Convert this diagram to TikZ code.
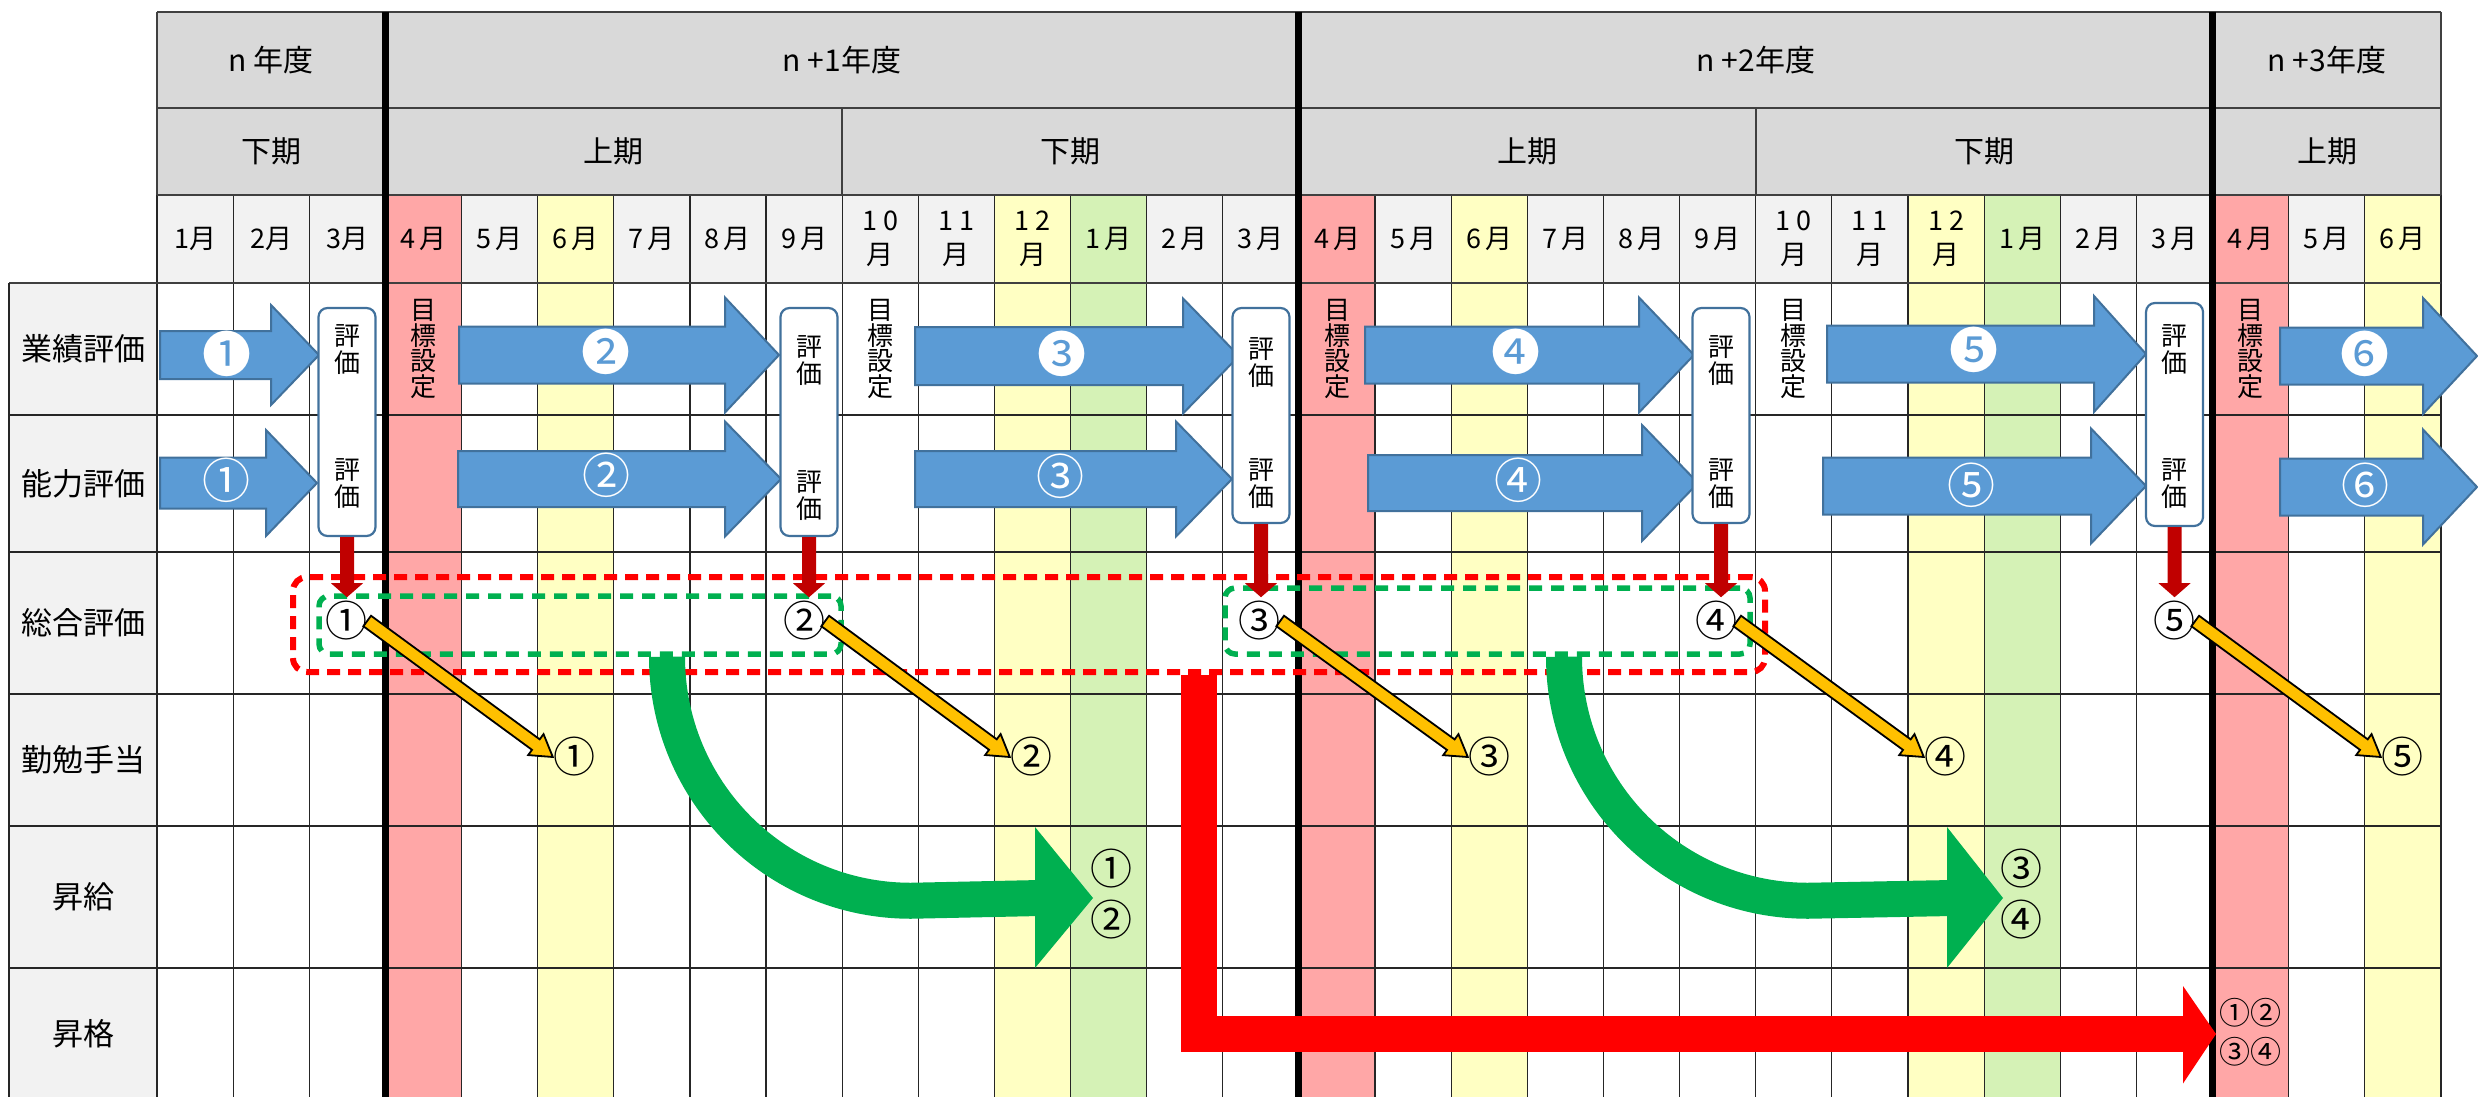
\documentclass[tikz,border=0pt]{standalone}
\usepackage{fontspec}
\setmainfont{Noto Sans CJK JP}
\usetikzlibrary{arrows.meta,calc}
\definecolor{hdr}{HTML}{D9D9D9}
\definecolor{hdrl}{HTML}{F2F2F2}
\definecolor{pinkc}{HTML}{FFA7A7}
\definecolor{yelc}{HTML}{FFFFC3}
\definecolor{grnc}{HTML}{D5F2B6}
\definecolor{bluef}{HTML}{5B9BD5}
\definecolor{blued}{HTML}{41719C}
\definecolor{dred}{HTML}{C00000}
\definecolor{gdash}{HTML}{00B050}
\definecolor{orng}{HTML}{FFC000}
\tikzset{
  gridl/.style={line width=1.2pt, draw=black!85},
  hdrline/.style={line width=1.5pt, draw=black!75},
  yearsep/.style={line width=7pt, draw=black},
  yeart/.style={font=\fontsize{30}{36}\selectfont, inner sep=0pt},
  monl/.style={font=\fontsize{27}{34}\selectfont, align=center, inner sep=0pt},
  rowl/.style={font=\fontsize{31}{36}\selectfont, inner sep=0pt},
  vtext/.style={font=\fontsize{26}{25.5}\selectfont, align=center, inner sep=0pt},
  hyoka/.style={draw=blued, line width=2.2pt, fill=white, rounded corners=9pt, minimum width=57pt, inner sep=0pt},
  hyokat/.style={font=\fontsize{26}{27}\selectfont, align=center, inner sep=0pt},
  blarr/.style={fill=bluef, draw=blued, line width=2pt, line join=miter},
  nega/.style={text=white, font=\fontsize{49}{49}\selectfont, inner sep=0pt},
  posi/.style={text=white, font=\fontsize{48}{48}\selectfont, inner sep=0pt},
  circ/.style={font=\fontsize{42}{51}\selectfont, align=center, inner sep=0pt},
  circs/.style={font=\fontsize{31}{39.5}\selectfont, align=center, inner sep=0pt},
  reddash/.style={draw=red, line width=6pt, dash pattern=on 13pt off 8pt, rounded corners=14pt, inner sep=0pt},
  grndash/.style={draw=gdash, line width=5.5pt, dash pattern=on 13pt off 9pt, rounded corners=10pt, inner sep=0pt},
  orarr/.style={fill=orng, draw=black, line width=1.8pt, line join=miter},
  grnarr/.style={draw=gdash, line width=36pt},
  redarr/.style={draw=red, line width=36pt, line join=miter},
}
\newcommand{\blueArrow}[6]{%
  \draw[blarr] (#1,{#4-#5}) -- (#2,{#4-#5}) -- (#2,{#4-#6}) -- (#3,#4) -- (#2,{#4+#6}) -- (#2,{#4+#5}) -- (#1,{#4+#5}) -- cycle;}
\newcommand{\redDown}[2]{%
  \path (#1.south) coordinate (dA) (#1.south |- #2.north) coordinate (dB);
  \fill[dred] ($(dA)+(-7,0)$) -- ($(dA)+(7,0)$) -- ($(dB)+(7,-18)$) -- ($(dB)+(16,-18)$) -- ($(dB)+(0,-4)$) -- ($(dB)+(-16,-18)$) -- ($(dB)+(-7,-18)$) -- cycle;}
\newcommand{\orArrow}[2]{%
  \path (#1) coordinate (oA) (#2) coordinate (oB);
  \coordinate (oC) at ($(oB)!21pt!(oA)$);
  \draw[orarr] ($(oA)!6.5pt!90:(oB)$) -- ($(oC)!6.5pt!90:(oB)$) -- ($(oC)!13pt!90:(oB)$) -- (oB) -- ($(oC)!13pt!-90:(oB)$) -- ($(oC)!6.5pt!-90:(oB)$) -- ($(oA)!6.5pt!-90:(oB)$) -- cycle;}
\begin{document}
\begin{tikzpicture}[x=1pt,y=-1pt]
\useasboundingbox (0,0) rectangle (2478,1097);
\clip (0,0) rectangle (2478,1097);
% ---------- fills
\fill[hdr] (157,12) rectangle (2441,195);
\fill[hdrl] (157,195) rectangle (2441,283);
\fill[hdrl] (9,283) rectangle (157,1100);
\foreach \i in {3,15,27} \fill[pinkc] ({157+\i*76.13},195) rectangle ({157+(\i+1)*76.13},1100);
\foreach \i in {5,11,17,23,29} \fill[yelc] ({157+\i*76.13},195) rectangle ({157+(\i+1)*76.13},1100);
\foreach \i in {12,24} \fill[grnc] ({157+\i*76.13},195) rectangle ({157+(\i+1)*76.13},1100);
% ---------- grid
\foreach \i in {0,...,30} \draw[gridl] ({157+\i*76.13},195) -- ({157+\i*76.13},1100);
\foreach \i in {0,9,21,30} \draw[hdrline] ({157+\i*76.13},108) -- ({157+\i*76.13},195);
\foreach \i in {0,30} \draw[hdrline] ({157+\i*76.13},12) -- ({157+\i*76.13},108);
\draw[hdrline] (157,12) -- (2441,12) (157,108) -- (2441,108) (157,195) -- (2441,195);
\draw[hdrline] (9,283) -- (2441,283);
\draw[gridl] (9,415) -- (2441,415) (9,552) -- (2441,552) (9,694) -- (2441,694) (9,826) -- (2441,826) (9,968) -- (2441,968);
\draw[gridl] (9,283) -- (9,1100);
\foreach \i in {3,15,27} \draw[yearsep] ({157+\i*76.13},12) -- ({157+\i*76.13},1100);
% ---------- header texts
\node[yeart] (y0) at (271,60) {n 年度};
\node[yeart] (y1) at (842,60) {n +1年度};
\node[yeart] (y2) at (1756,60) {n +2年度};
\node[yeart] (y3) at (2327,60) {n +3年度};
\node[yeart] (h0) at (271,151.5) {下期};
\node[yeart] (h1) at (613.5,151.5) {上期};
\node[yeart] (h2) at (1070,151.5) {下期};
\node[yeart] (h3) at (1527,151.5) {上期};
\node[yeart] (h4) at (1984,151.5) {下期};
\node[yeart] (h5) at (2327,151.5) {上期};
\foreach \i/\lab in {0/1月,1/2月,2/3月,3/4\hspace{4pt}月,4/5\hspace{4pt}月,5/6\hspace{4pt}月,6/7\hspace{4pt}月,7/8\hspace{4pt}月,8/9\hspace{4pt}月,9/{1\hspace{6pt}0\\月},10/{1\hspace{6pt}1\\月},11/{1\hspace{6pt}2\\月},12/1\hspace{4pt}月,13/2\hspace{4pt}月,14/3\hspace{4pt}月,15/4\hspace{4pt}月,16/5\hspace{4pt}月,17/6\hspace{4pt}月,18/7\hspace{4pt}月,19/8\hspace{4pt}月,20/9\hspace{4pt}月,21/{1\hspace{6pt}0\\月},22/{1\hspace{6pt}1\\月},23/{1\hspace{6pt}2\\月},24/1\hspace{4pt}月,25/2\hspace{4pt}月,26/3\hspace{4pt}月,27/4\hspace{4pt}月,28/5\hspace{4pt}月,29/6\hspace{4pt}月}
  \node[monl] (m\i) at ({157+(\i+0.5)*76.13},239) {\lab};
% ---------- row labels
\node[rowl] (r1) at (83,349) {業績評価};
\node[rowl] (r2) at (83,483.5) {能力評価};
\node[rowl] (r3) at (83,623) {総合評価};
\node[rowl] (r4) at (83,760) {勤勉手当};
\node[rowl] (r5) at (83,897) {昇給};
\node[rowl] (r6) at (83,1034) {昇格};
\foreach \i in {3,9,15,21,27} \node[vtext] (mk\i) at ({157+(\i+0.5)*76.13},349) {目\\標\\設\\定};
% ---------- blue arrows
\blueArrow{160}{271}{319}{355}{24}{50}
\blueArrow{459}{725}{779}{355}{28.5}{57.5}
\blueArrow{915}{1183}{1239}{356}{29}{57.5}
\blueArrow{1365}{1639}{1694}{355}{28.5}{57.5}
\blueArrow{1827}{2094}{2146}{354}{28.5}{58}
\blueArrow{2280}{2423}{2477}{356}{28.5}{58}
\blueArrow{160}{266}{317}{483}{25.5}{53}
\blueArrow{458}{725}{781}{479}{28}{57.5}
\blueArrow{915}{1176}{1232}{479}{28}{57.5}
\blueArrow{1368}{1642}{1698}{483}{28}{58}
\blueArrow{1823}{2091}{2146}{486}{28.5}{57.5}
\blueArrow{2280}{2423}{2477}{487}{28.5}{57.5}
\node[nega] (a1) at (227,354) {❶};
\node[nega] (a2) at (606,352) {❷};
\node[nega] (a3) at (1062,354) {❸};
\node[nega] (a4) at (1516,352) {❹};
\node[nega] (a5) at (1974,350) {❺};
\node[nega] (a6) at (2365,354) {❻};
\node[posi] (b1) at (226,480) {①};
\node[posi] (b2) at (606,475) {②};
\node[posi] (b3) at (1060,476) {③};
\node[posi] (b4) at (1518,480) {④};
\node[posi] (b5) at (1971,485) {⑤};
\node[posi] (b6) at (2365,485) {⑥};
% ---------- evaluation boxes
\node[hyoka, minimum height=228pt] (E1) at (347,422) {};
\node[hyoka, minimum height=228pt] (E2) at (809,422) {};
\node[hyoka, minimum height=215pt] (E3) at (1261,415.5) {};
\node[hyoka, minimum height=215pt] (E4) at (1721,415.5) {};
\node[hyoka, minimum height=223pt] (E5) at (2174.5,414.5) {};
\node[hyokat] (E1a) at (347,350) {評\\価};
\node[hyokat] (E1b) at (347,484) {評\\価};
\node[hyokat] (E2a) at (809,361) {評\\価};
\node[hyokat] (E2b) at (809,496) {評\\価};
\node[hyokat] (E3a) at (1261,363) {評\\価};
\node[hyokat] (E3b) at (1261,484) {評\\価};
\node[hyokat] (E4a) at (1721,361) {評\\価};
\node[hyokat] (E4b) at (1721,484) {評\\価};
\node[hyokat] (E5a) at (2174.5,350) {評\\価};
\node[hyokat] (E5b) at (2174.5,484) {評\\価};
% ---------- dashed boxes
\node[reddash, minimum width=1472pt, minimum height=95pt] (RB) at (1029,624.5) {};
\node[grndash, minimum width=522pt, minimum height=58pt] (GB1) at (580,625) {};
\node[grndash, minimum width=525pt, minimum height=66pt] (GB2) at (1487.5,621) {};
% ---------- circled numbers
\node[circ] (s1) at (346,621) {①};
\node[circ] (s2) at (804,621) {②};
\node[circ] (s3) at (1259,621) {③};
\node[circ] (s4) at (1716,621) {④};
\node[circ] (s5) at (2174,621) {⑤};
\node[circ] (k1) at (574,757) {①};
\node[circ] (k2) at (1031,757) {②};
\node[circ] (k3) at (1489,757) {③};
\node[circ] (k4) at (1945,757) {④};
\node[circ] (k5) at (2402,757) {⑤};
\node[circ] (p1) at (1111,894.5) {①\\②};
\node[circ] (p2) at (2021,894.5) {③\\④};
\node[circs] (q1) at (2250,1032) {①②\\③④};
% ---------- red down arrows
\redDown{E1}{s1}
\redDown{E2}{s2}
\redDown{E3}{s3}
\redDown{E4}{s4}
\redDown{E5}{s5}
% ---------- orange arrows
\orArrow{s1.east}{k1.west}
\orArrow{s2.east}{k2.west}
\orArrow{s3.east}{k3.west}
\orArrow{s4.east}{k4.west}
\orArrow{s5.east}{k5.west}
% ---------- green curved arrows
\coordinate (g1s) at (GB1.south -| 667,0);
\coordinate (g2s) at (GB2.south -| 1564,0);
\draw[grnarr] (g1s) .. controls ($(g1s)+(0,135)$) and ($(g1s)+(109,244)$) .. ($(g1s)+(244,244)$) -- (1040,898);
\fill[gdash] (1035,827) -- (1093,898) -- (1035,968) -- cycle;
\draw[grnarr] (g2s) .. controls ($(g2s)+(0,135)$) and ($(g2s)+(109,244)$) .. ($(g2s)+(244,244)$) -- (1952,898);
\fill[gdash] (1947,827) -- (2003,898) -- (1947,968) -- cycle;
% ---------- red L arrow
\coordinate (rs) at (RB.south -| 1199,0);
\draw[redarr] (rs) -- (1199,1034) -- (2188,1034);
\fill[red] (2183,986) -- (2216,1034) -- (2183,1083.5) -- cycle;
% ---------- page mark
\node[font=\fontsize{30}{30}\selectfont, inner sep=0pt] (pg) at (2487,1092) {1};
\end{tikzpicture}
\end{document}
